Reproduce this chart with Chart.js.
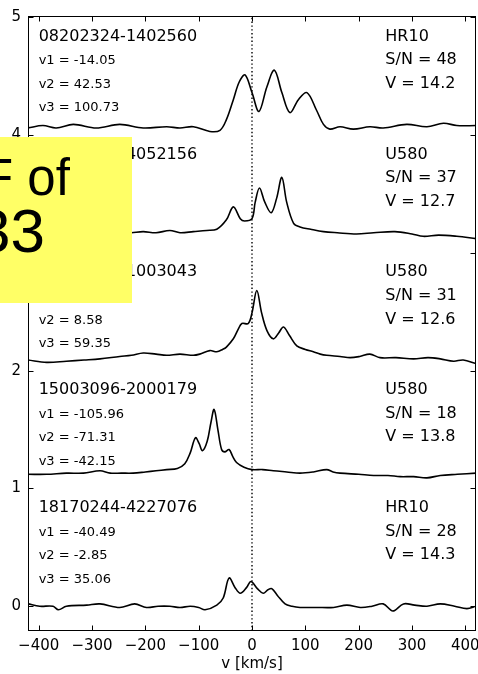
<!DOCTYPE html>
<html>
<head>
<meta charset="utf-8">
<title>Line profiles</title>
<script src="https://cdn.jsdelivr.net/npm/chart.js@4"></script>
<style>
  html, body { margin: 0; padding: 0; background: #fff; }
  #wrap { position: relative; width: 478px; height: 674px; overflow: hidden; }
  #note {
    position: absolute; left: 0; top: 137px; width: 132px; height: 166px;
    background: #ffff66; overflow: hidden;
    font-family: "Liberation Sans", Arial, sans-serif; color: #000;
  }
  #note span { position: absolute; white-space: nowrap; line-height: 1; }
  #note .l1 { font-size: 51px; left: -18px; top: 15px; }
  #note .l2 { font-size: 62px; left: -24px; top: 63px; }
</style>
</head>
<body>
<div id="wrap">
  <canvas id="chartSpectra"></canvas>
  <div id="note"><span class="l1">F of</span><span class="l2">33</span></div>
</div>
<script>
// ═══════════════════════════════════════
//  stacked CCF profiles, one per star, offset by 1
// ═══════════════════════════════════════
const X_MIN = -420, X_MAX = 420;
const Y_MIN = -0.21, Y_MAX = 5.01;
const FONT  = "'DejaVu Sans', sans-serif";

const xTicks = [-400, -300, -200, -100, 0, 100, 200, 300, 400];
const yTicks = [0, 1, 2, 3, 4, 5];

// profile 1 — 08202324-1402560
const vel1  = [-420,-392,-367,-335,-292,-248,-204,-160,-135,-110,-79,-60,-48,-35,-24,-13,0,13,28,42,56,71,87,103,121,134,146,165,190,221,246,290,328,359,384,420];
const flux1 = [4.06,4.08,4.06,4.09,4.06,4.09,4.06,4.07,4.06,4.07,4.03,4.04,4.13,4.30,4.45,4.51,4.36,4.20,4.41,4.55,4.36,4.19,4.30,4.36,4.21,4.09,4.05,4.07,4.05,4.07,4.06,4.09,4.07,4.10,4.08,4.08];

// profile 2 — ...4052156
const vel2  = [-420,-380,-340,-300,-260,-226,-204,-180,-154,-135,-110,-85,-66,-48,-35,-22,-14,0,6,14,24,36,46,56,65,78,90,110,134,160,196,228,268,300,321,350,384,420];
const flux2 = [3.16,3.17,3.16,3.17,3.16,3.17,3.18,3.17,3.19,3.17,3.18,3.19,3.20,3.28,3.39,3.29,3.27,3.29,3.43,3.55,3.43,3.34,3.46,3.64,3.43,3.25,3.22,3.20,3.18,3.17,3.16,3.17,3.18,3.16,3.14,3.15,3.14,3.12];

// profile 3 — ...1003043
const vel3  = [-420,-385,-348,-315,-285,-248,-226,-204,-180,-160,-135,-110,-98,-79,-66,-55,-48,-35,-26,-19,-7,0,9,18,28,40,50,59,70,84,100,115,128,140,165,184,202,221,240,270,303,330,353,378,396,420];
const flux3 = [2.09,2.07,2.08,2.09,2.10,2.12,2.13,2.15,2.14,2.13,2.14,2.13,2.14,2.17,2.16,2.18,2.20,2.27,2.35,2.40,2.40,2.49,2.68,2.49,2.34,2.27,2.32,2.37,2.30,2.21,2.18,2.16,2.14,2.13,2.12,2.11,2.12,2.14,2.11,2.11,2.10,2.11,2.10,2.08,2.09,2.06];

// profile 4 — 15003096-2000179
const vel4  = [-420,-385,-348,-316,-285,-266,-245,-223,-200,-180,-160,-140,-126,-116,-106,-99,-93,-84,-77,-71,-64,-57,-51,-43,-36,-29,-15,0,20,40,65,90,115,140,152,165,200,228,255,278,303,328,353,385,420];
const flux4 = [1.12,1.12,1.13,1.13,1.15,1.13,1.13,1.13,1.14,1.15,1.16,1.17,1.21,1.30,1.43,1.38,1.32,1.40,1.56,1.67,1.50,1.33,1.31,1.33,1.27,1.22,1.18,1.16,1.16,1.15,1.14,1.13,1.14,1.16,1.14,1.13,1.12,1.11,1.11,1.10,1.10,1.09,1.11,1.12,1.13];

// profile 5 — 18170244-4227076
const vel5  = [-420,-398,-373,-363,-348,-310,-285,-248,-220,-198,-176,-154,-135,-116,-100,-88,-66,-54,-43,-32,-22,-10,-2,10,21,30,37,48,62,75,90,120,153,178,203,225,246,264,284,305,328,353,380,403,420];
const flux5 = [0.02,0.00,0.00,-0.03,0.00,0.01,0.02,-0.01,0.02,-0.01,0.00,0.00,-0.01,0.00,-0.01,-0.03,0.01,0.07,0.24,0.16,0.11,0.16,0.21,0.15,0.11,0.14,0.15,0.09,0.02,0.00,-0.01,-0.01,-0.01,0.01,-0.01,0.00,0.02,-0.04,0.02,0.01,0.00,0.02,0.00,-0.02,0.00];

// per-panel labels, top to bottom (panel base = 4,3,2,1,0)
const panelBase = [4, 3, 2, 1, 0];
const starIds   = ["08202324-1402560", "4052156", "1003043", "15003096-2000179", "18170244-4227076"];
const peakV1    = ["-14.05", null, null, "-105.96", "-40.49"];
const peakV2    = ["42.53",  null, "8.58", "-71.31", "-2.85"];
const peakV3    = ["100.73", null, "59.35", "-42.15", "35.06"];
const setups    = ["HR10", "U580", "U580", "U580", "HR10"];
const snr       = [48, 37, 31, 18, 28];
const vmag      = ["14.2", "12.7", "12.6", "13.8", "14.3"];

const LEFT_X  = -400;   // km/s, left text column
const RIGHT_X = 250;    // km/s, right text column

let chart = null;

function toPoints(vs, fs) {
  return vs.map((v, i) => ({ x: v, y: fs[i] }));
}

function makeDS(vs, fs) {
  return {
    data: toPoints(vs, fs),
    borderColor: "#000", borderWidth: 1.6,
    pointRadius: 0, fill: false,
    tension: 0.35
  };
}

function minusLabel(v) {
  return v < 0 ? "\u2212" + Math.abs(v) : String(v);
}

// frame + inward ticks on all four sides
const framePlugin = {
  id: "frame",
  afterDraw(c) {
    const { ctx, chartArea: a, scales: { x, y } } = c;
    const L = Math.round(a.left) + 0.5, R = Math.round(a.right) - 0.5;
    const T = Math.round(a.top) + 0.5,  B = Math.round(a.bottom) - 0.5;
    const len = 5;
    ctx.save();
    ctx.strokeStyle = "#000";
    ctx.lineWidth = 1;
    ctx.beginPath();
    xTicks.forEach(v => {
      const px = Math.round(x.getPixelForValue(v)) + 0.5;
      ctx.moveTo(px, B); ctx.lineTo(px, B - len);
      ctx.moveTo(px, T); ctx.lineTo(px, T + len);
    });
    yTicks.forEach(v => {
      const py = Math.round(y.getPixelForValue(v)) + 0.5;
      ctx.moveTo(L, py); ctx.lineTo(L + len, py);
      ctx.moveTo(R, py); ctx.lineTo(R - len, py);
    });
    ctx.stroke();
    ctx.strokeRect(L, T, R - L, B - T);
    ctx.restore();
  }
};

// star id, peak velocities, setup / S/N / V magnitude
const labelPlugin = {
  id: "panelLabels",
  afterDatasetsDraw(c) {
    const { ctx, scales: { x, y } } = c;
    const xl = x.getPixelForValue(LEFT_X);
    const xr = x.getPixelForValue(RIGHT_X);
    ctx.save();
    ctx.fillStyle = "#000";
    ctx.textBaseline = "alphabetic";

    ctx.font = "16px " + FONT;
    const idEnd = xl + ctx.measureText(starIds[0]).width;

    panelBase.forEach((b, i) => {
      ctx.font = "16px " + FONT;
      const id = starIds[i];
      if (id.length < starIds[0].length) {
        // only the tail of this id is shown; keep it flush with the full ids
        ctx.textAlign = "right";
        ctx.fillText(id, idEnd, y.getPixelForValue(b + 0.8));
      } else {
        ctx.textAlign = "left";
        ctx.fillText(id, xl, y.getPixelForValue(b + 0.8));
      }

      ctx.textAlign = "left";
      ctx.fillText(setups[i], xr, y.getPixelForValue(b + 0.8));
      ctx.fillText("S/N = " + snr[i], xr, y.getPixelForValue(b + 0.6));
      ctx.fillText("V = " + vmag[i], xr, y.getPixelForValue(b + 0.4));

      ctx.font = "13px " + FONT;
      [peakV1[i], peakV2[i], peakV3[i]].forEach((pv, k) => {
        if (pv === null) return;
        ctx.fillText("v" + (k + 1) + " = " + pv, xl, y.getPixelForValue(b + 0.6 - 0.2 * k));
      });
    });
    ctx.restore();
  }
};

function initChart() {
  const canvas = document.getElementById("chartSpectra");
  if (!canvas || typeof Chart === "undefined") return;

  chart = new Chart(canvas, {
    type: "line",
    data: {
      datasets: [
        makeDS(vel1, flux1),
        makeDS(vel2, flux2),
        makeDS(vel3, flux3),
        makeDS(vel4, flux4),
        makeDS(vel5, flux5),
        {
          data: [{ x: 0, y: Y_MIN }, { x: 0, y: Y_MAX }],
          borderColor: "#000", borderWidth: 1.4, borderDash: [1.4, 2.4],
          pointRadius: 0, fill: false
        }
      ]
    },
    options: {
      responsive: true,
      maintainAspectRatio: false,
      animation: false,
      layout: { padding: { top: 16, right: 2, left: 0, bottom: 0 } },
      plugins: { legend: { display: false }, tooltip: { enabled: false } },
      scales: {
        x: {
          type: "linear", min: X_MIN, max: X_MAX,
          grid: { display: false, drawTicks: false },
          border: { display: false },
          ticks: {
            stepSize: 100, includeBounds: false, padding: 6,
            color: "#000", font: { family: FONT, size: 15 },
            callback: minusLabel
          },
          title: {
            display: true, text: "v [km/s]", color: "#000",
            font: { family: FONT, size: 15 }, padding: { top: 0, bottom: 1 }
          },
          afterFit(s) { s.height = 43; s.paddingLeft = 0; s.paddingRight = 0; }
        },
        y: {
          type: "linear", min: Y_MIN, max: Y_MAX,
          grid: { display: false, drawTicks: false },
          border: { display: false },
          ticks: {
            stepSize: 1, includeBounds: false, padding: 7,
            color: "#000", font: { family: FONT, size: 15 }
          },
          afterFit(s) { s.width = 28; s.paddingTop = 0; s.paddingBottom = 0; }
        }
      }
    },
    plugins: [framePlugin, labelPlugin]
  });
}

initChart();
</script>
</body>
</html>
